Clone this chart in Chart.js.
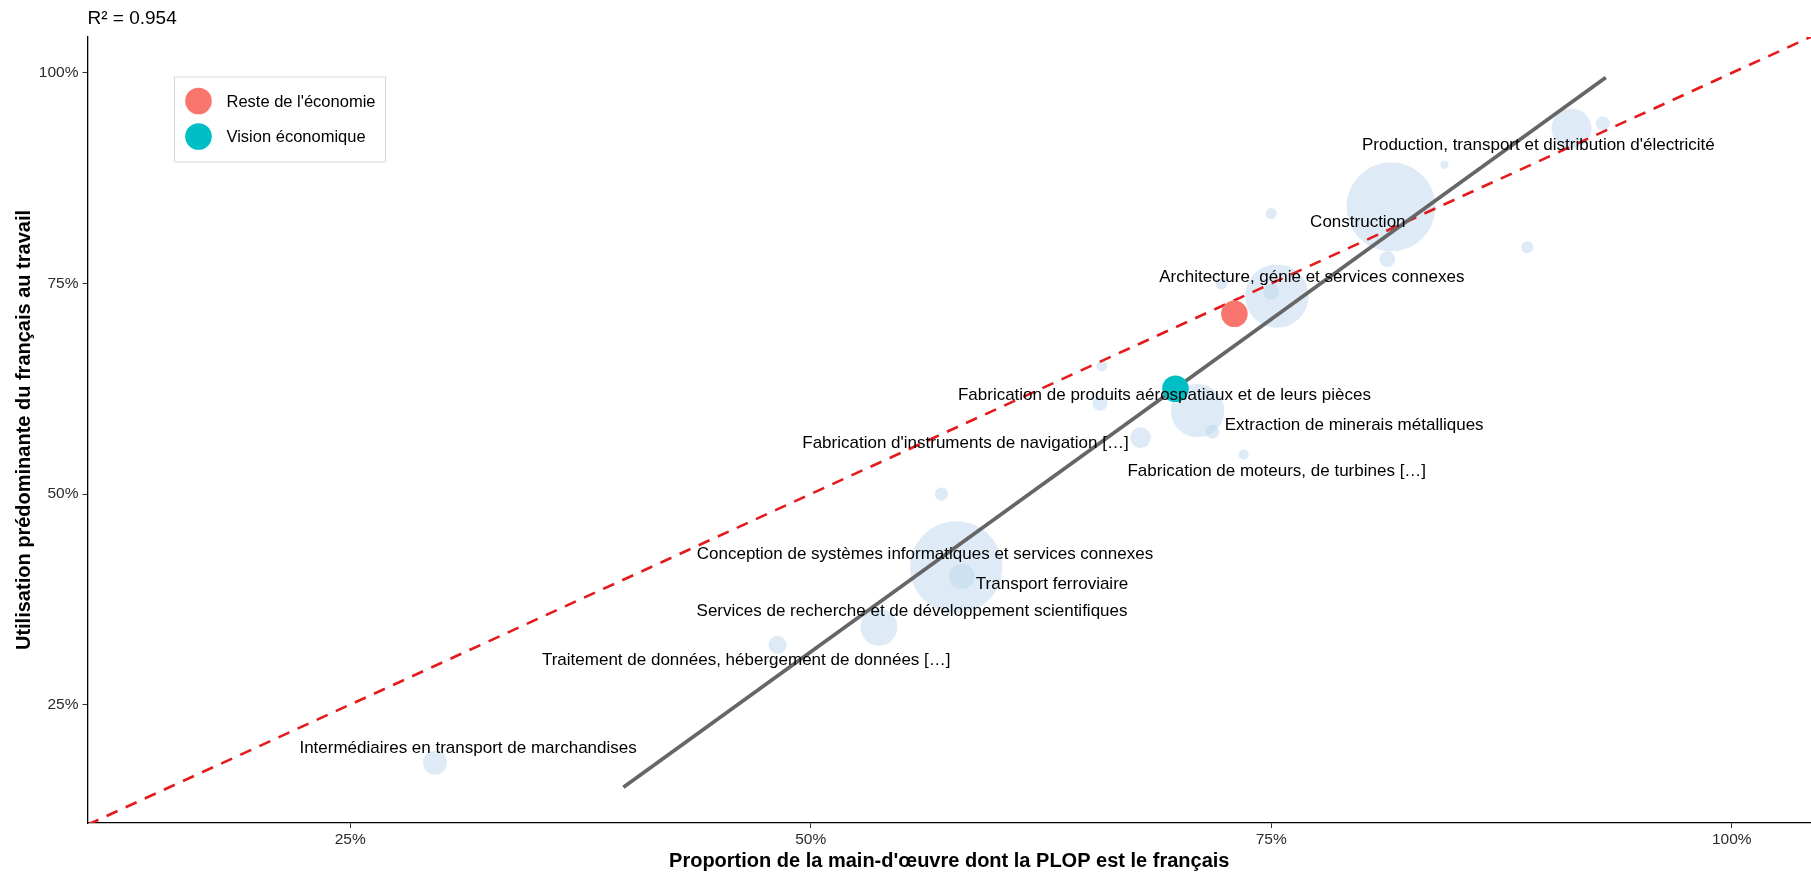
<!DOCTYPE html>
<html lang="fr">
<head>
<meta charset="utf-8">
<title>Utilisation prédominante du français au travail</title>
<script src="https://cdn.jsdelivr.net/npm/chart.js@4.4.1/dist/chart.umd.min.js"></script>
<style>
  html, body { margin: 0; padding: 0; background: #fff; }
  #wrap { width: 1811px; height: 875px; position: relative; }
</style>
</head>
<body>
<div id="wrap"><canvas id="chart"></canvas></div>
<script>
// ===== Données =====
const axisX = [10.74, 104.3];
const axisY = [10.94, 104.27];
const tickValues = [25, 50, 75, 100];

// Industries (bulles) : proportion PLOP français, utilisation prédominante, effectif (estimé)
const bulleX = [29.6, 48.2, 53.7, 57.9, 58.2, 57.1, 67.9, 71.0, 71.8, 73.5, 65.7, 65.8, 75.3, 75.0, 72.3, 75.0, 81.5, 81.3, 84.4, 88.9, 91.3, 93.0];
const bulleY = [18.1, 32.1, 34.2, 41.3, 40.2, 50.0, 56.7, 59.9, 57.4, 54.7, 60.8, 65.2, 73.5, 74.0, 75.0, 83.3, 84.1, 77.9, 89.1, 79.3, 93.4, 94.0];
const effectif = [68, 39, 163, 1006, 77, 21, 51, 339, 23, 12, 27, 14, 478, 30, 17, 15, 942, 30, 8, 17, 190, 23];

// Groupes agrégés
const resteX = [73.0];
const resteY = [71.4];
const visionX = [69.8];
const visionY = [62.5];

// Droite de régression (extrémités)
const regX = [39.83, 93.16];
const regY = [15.18, 99.46];
const r2 = 0.954;

// Étiquettes
const etiquettes = [
  "Production, transport et distribution d'électricité",
  'Construction',
  'Architecture, génie et services connexes',
  'Fabrication de produits aérospatiaux et de leurs pièces',
  'Extraction de minerais métalliques',
  "Fabrication d'instruments de navigation […]",
  'Fabrication de moteurs, de turbines […]',
  'Conception de systèmes informatiques et services connexes',
  'Transport ferroviaire',
  'Services de recherche et de développement scientifiques',
  'Traitement de données, hébergement de données […]',
  'Intermédiaires en transport de marchandises'
];
const etiqX = [89.5, 79.7, 77.2, 69.2, 79.5, 58.4, 75.3, 56.2, 63.1, 55.5, 46.5, 31.4];
const etiqY = [91.35, 82.3, 75.7, 61.7, 58.2, 56.0, 52.7, 42.9, 39.3, 36.1, 30.2, 19.8];

const legendLabels = ["Reste de l'économie", 'Vision économique'];
const xTitle = "Proportion de la main-d'œuvre dont la PLOP est le français";
const yTitle = 'Utilisation prédominante du français au travail';

// ===== Couleurs =====
const RED = '#F8766D';
const TEAL = '#00BFC4';
const FONT = '"Liberation Sans", Arial, Helvetica, sans-serif';

Chart.defaults.font.family = FONT;
Chart.defaults.color = '#000';

const radiusOf = eff => 1.45 * Math.sqrt(eff);

// ===== Étiquettes, titre et légende =====
const annotations = {
  id: 'annotations',
  afterDatasetsDraw(chart) {
    const { ctx, chartArea } = chart;
    const x = chart.scales.x, y = chart.scales.y;
    ctx.save();

    ctx.font = '17px ' + FONT;
    ctx.fillStyle = '#000';
    ctx.textAlign = 'center';
    ctx.textBaseline = 'middle';
    etiquettes.forEach((t, i) => {
      ctx.fillText(t, x.getPixelForValue(etiqX[i]), y.getPixelForValue(etiqY[i]));
    });

    // R²
    ctx.textAlign = 'left';
    ctx.textBaseline = 'alphabetic';
    ctx.font = '19px ' + FONT;
    ctx.fillText('R² = ' + r2.toFixed(3), chartArea.left, 23.5);

    // Légende
    const lx = 174, ly = 76.5, lw = 211, lh = 85;
    ctx.fillStyle = '#fff';
    ctx.fillRect(lx, ly, lw, lh);
    ctx.strokeStyle = '#d9d9d9';
    ctx.lineWidth = 1;
    ctx.strokeRect(lx + 0.5, ly + 0.5, lw, lh);
    [RED, TEAL].forEach((c, i) => {
      const cy = ly + 24.5 + i * 35.5;
      ctx.beginPath();
      ctx.arc(lx + 24.5, cy, 13.3, 0, Math.PI * 2);
      ctx.fillStyle = c;
      ctx.fill();
      ctx.fillStyle = '#000';
      ctx.font = '16.5px ' + FONT;
      ctx.textBaseline = 'middle';
      ctx.fillText(legendLabels[i], lx + 52.5, cy + 1);
    });

    ctx.restore();
  }
};

// ===== Graphique =====
new Chart(document.getElementById('chart'), {
  type: 'bubble',
  data: {
    datasets: [
      {
        label: 'Industries',
        data: bulleX.map((v, i) => ({ x: v, y: bulleY[i], r: radiusOf(effectif[i]) })),
        backgroundColor: 'rgba(189,215,238,0.5)',
        borderWidth: 0,
        order: 4
      },
      {
        type: 'line',
        label: 'y = x',
        data: [{ x: axisX[0], y: axisX[0] }, { x: axisX[1], y: axisX[1] }],
        borderColor: '#E41A1C',
        borderWidth: 2.6,
        borderDash: [12, 9],
        pointRadius: 0,
        order: 3
      },
      {
        type: 'line',
        label: 'Régression',
        data: regX.map((v, i) => ({ x: v, y: regY[i] })),
        borderColor: '#666666',
        borderWidth: 3.8,
        pointRadius: 0,
        order: 2
      },
      {
        label: legendLabels[0],
        data: resteX.map((v, i) => ({ x: v, y: resteY[i] })),
        backgroundColor: RED,
        borderWidth: 0,
        radius: 13.3,
        order: 1
      },
      {
        label: legendLabels[1],
        data: visionX.map((v, i) => ({ x: v, y: visionY[i] })),
        backgroundColor: TEAL,
        borderWidth: 0,
        radius: 13.3,
        order: 0
      }
    ]
  },
  options: {
    responsive: true,
    maintainAspectRatio: false,
    animation: false,
    events: [],
    layout: { autoPadding: false, padding: { top: 37, right: 0, left: 0, bottom: 0 } },
    plugins: {
      legend: { display: false },
      tooltip: { enabled: false }
    },
    scales: {
      x: {
        type: 'linear',
        position: 'bottom',
        min: axisX[0],
        max: axisX[1],
        afterBuildTicks: s => { s.ticks = tickValues.map(v => ({ value: v })); },
        afterFit: s => { s.height = 52; },
        ticks: { callback: v => v + '%', font: { size: 15.5 }, color: '#2b2b2b', padding: 2, maxRotation: 0 },
        grid: { drawOnChartArea: false, drawTicks: true, tickLength: 5, color: '#333', lineWidth: 1 },
        border: { display: true, color: '#000', width: 1.3 },
        title: { display: true, text: xTitle, color: '#000', font: { size: 20, weight: 'bold' }, padding: { top: 0, bottom: 2 } }
      },
      y: {
        type: 'linear',
        position: 'left',
        min: axisY[0],
        max: axisY[1],
        afterBuildTicks: s => { s.ticks = tickValues.map(v => ({ value: v })); },
        afterFit: s => { s.width = 87.5; },
        ticks: { callback: v => v + '%', font: { size: 15.5 }, color: '#2b2b2b', padding: 4 },
        grid: { drawOnChartArea: false, drawTicks: true, tickLength: 5, color: '#333', lineWidth: 1 },
        border: { display: true, color: '#000', width: 1.3 },
        title: { display: true, text: yTitle, color: '#000', font: { size: 20, weight: 'bold' }, padding: { top: 12.5, bottom: 0 } }
      }
    }
  },
  plugins: [annotations]
});
</script>
</body>
</html>
